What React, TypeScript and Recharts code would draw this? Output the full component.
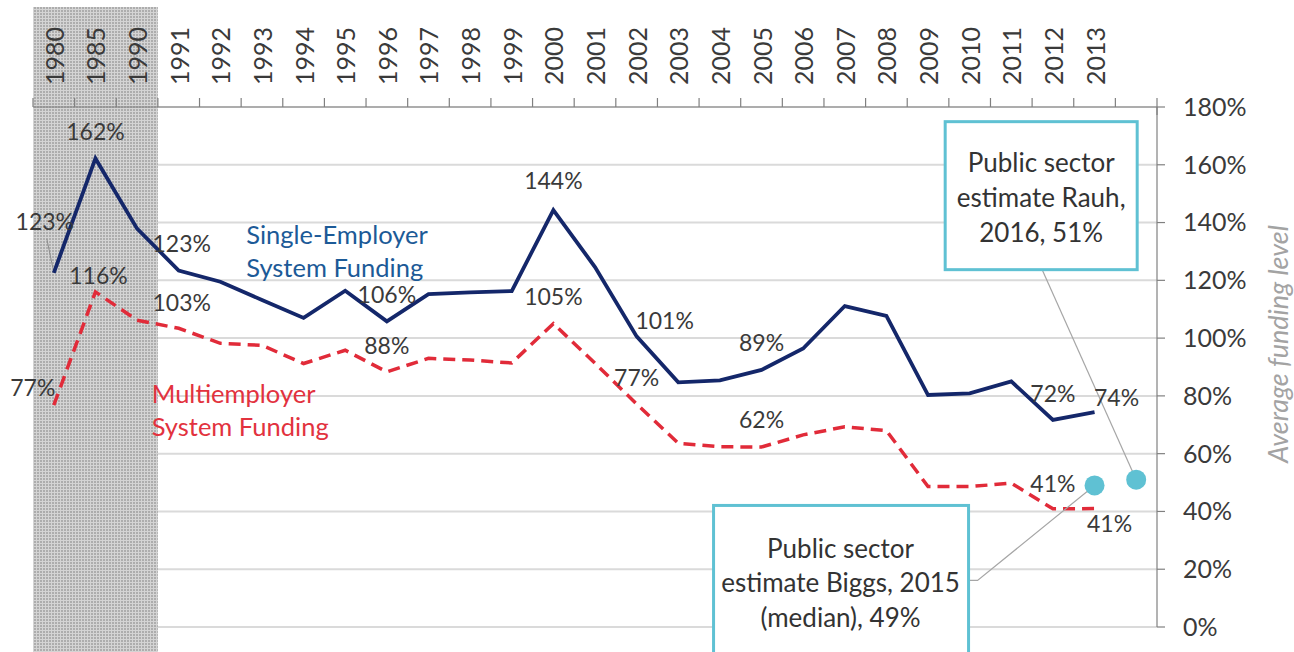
import React from 'react';
import {
  ComposedChart,
  Line,
  XAxis,
  YAxis,
  CartesianGrid,
  ReferenceArea,
  ReferenceDot,
  LabelList,
  Label,
} from 'recharts';

// ---------- data ----------
const categories = [
  '1980', '1985', '1990', '1991', '1992', '1993', '1994', '1995', '1996', '1997',
  '1998', '1999', '2000', '2001', '2002', '2003', '2004', '2005', '2006', '2007',
  '2008', '2009', '2010', '2011', '2012', '2013', 'est',
];
const tickLabels = [
  '1980', '1985', '1990', '1991', '1992', '1993', '1994', '1995', '1996', '1997',
  '1998', '1999', '2000', '2001', '2002', '2003', '2004', '2005', '2006', '2007',
  '2008', '2009', '2010', '2011', '2012', '2013', '',
];
const singleEmployer = [
  122.6, 162.2, 137.9, 123.4, 119.5, 113.2, 107.0, 116.4, 105.8, 115.2,
  115.8, 116.3, 144.3, 124.6, 100.6, 84.7, 85.4, 89.0, 96.4, 111.1,
  107.7, 80.3, 80.9, 85.0, 71.7, 74.4, null,
];
const multiEmployer = [
  76.8, 116.0, 106.2, 103.4, 98.2, 97.5, 91.2, 95.8, 88.3, 93.0,
  92.4, 91.4, 105.0, 91.3, 77.2, 63.6, 62.4, 62.3, 66.5, 69.3,
  68.0, 48.6, 48.6, 49.8, 40.9, 41.0, null,
];
const publicSector = [
  null, null, null, null, null, null, null, null, null, null,
  null, null, null, null, null, null, null, null, null, null,
  null, null, null, null, null, 49, 51,
];
const yTicks = [0, 20, 40, 60, 80, 100, 120, 140, 160, 180];
const publicNotes = [
  ['Public sector', 'estimate Biggs, 2015', '(median), 49%'],
  ['Public sector', 'estimate Rauh,', '2016, 51%'],
];
const seriesNames = {
  single: ['Single-Employer', 'System Funding'],
  multi: ['Multiemployer', 'System Funding'],
};

const data = categories.map((year, i) => ({
  year,
  single: singleEmployer[i],
  multi: multiEmployer[i],
  pub: publicSector[i],
}));

// ---------- styling ----------
const FONT = 'Lato, "Open Sans", sans-serif';
const NAVY = '#14276a';
const RED = '#e12b39';
const TEAL = '#5fc1d3';
const BAND = 1124 / 27;

// data label offsets (relative to point)
const singleLabelPos: Record<string, { dx: number; dy: number; leader?: boolean }> = {
  '1980': { dx: -9, dy: -52, leader: true },
  '1985': { dx: 0, dy: -27 },
  '1991': { dx: 3, dy: -28 },
  '1996': { dx: 0, dy: -27 },
  '2000': { dx: 0, dy: -30 },
  '2002': { dx: 28, dy: -16 },
  '2005': { dx: 0, dy: -28 },
  '2012': { dx: 0, dy: -27 },
  '2013': { dx: 22, dy: -15 },
};
const multiLabelPos: Record<string, { dx: number; dy: number; leader?: boolean }> = {
  '1980': { dx: -21, dy: -18 },
  '1985': { dx: 3, dy: -17 },
  '1991': { dx: 3, dy: -26 },
  '1996': { dx: 0, dy: -27 },
  '2000': { dx: 0, dy: -28 },
  '2002': { dx: 0, dy: -27 },
  '2005': { dx: 0, dy: -28 },
  '2012': { dx: 0, dy: -26 },
  '2013': { dx: 15, dy: 14 },
};

const makeLabel = (pos: Record<string, { dx: number; dy: number; leader?: boolean }>) =>
  (props: any) => {
    const { x, y, value, index } = props;
    const cfg = pos[categories[index]];
    if (!cfg || value == null || x == null || y == null) return <g />;
    const lx = x + cfg.dx;
    const ly = y + cfg.dy;
    return (
      <g>
        {cfg.leader && (
          <line x1={lx + 2} y1={ly + 18} x2={x - 1} y2={y - 5} stroke="#8c8c8c" strokeWidth={1} />
        )}
        <text
          x={lx}
          y={ly}
          textAnchor="middle"
          dominantBaseline="central"
          fontSize={23}
          fontFamily={FONT}
          fill="#3a3a3a"
        >
          {Math.round(value)}%
        </text>
      </g>
    );
  };

const YearTick = (props: any) => {
  const { x, y, index } = props;
  const label = tickLabels[index] ?? '';
  const left = x - BAND / 2;
  const right = x + BAND / 2;
  const isLast = index === categories.length - 1;
  return (
    <g>
      <line x1={left} y1={y - 9} x2={left} y2={y} stroke="#808080" strokeWidth={1.2} />
      {isLast && <line x1={right} y1={y - 9} x2={right} y2={y + 8} stroke="#808080" strokeWidth={1.2} />}
      <text
        x={x}
        y={y - 22}
        transform={`rotate(-90, ${x}, ${y - 22})`}
        textAnchor="start"
        dominantBaseline="central"
        fontSize={25}
        fontFamily={FONT}
        fill="#3a3a3a"
      >
        {label}
      </text>
    </g>
  );
};

// callout layout relative to each public-sector dot
const callouts = [
  {
    box: { dx: -381, dy: 20, w: 255, h: 170 },
    textX: -254,
    textY: [63, 97, 132],
    leader: [[-126, 95], [-117, 95], [0, 0]],
  },
  {
    box: { dx: -191, dy: -358, w: 192, h: 148 },
    textX: -95,
    textY: [-318, -283, -248],
    leader: [[-94, -210], [0, 0]],
  },
];

const PublicDot = (props: any) => {
  const { cx, cy, index } = props;
  if (cx == null || cy == null || publicSector[index] == null) return <g key={`pd-${index}`} />;
  const ci = index - (categories.length - 2);
  const c = callouts[ci];
  const lines = publicNotes[ci];
  return (
    <g key={`pd-${index}`}>
      {c && (
        <>
          <polyline
            points={c.leader.map(([dx, dy]) => `${cx + dx},${cy + dy}`).join(' ')}
            fill="none"
            stroke="#a6a6a6"
            strokeWidth={1.2}
          />
          <rect
            x={cx + c.box.dx}
            y={cy + c.box.dy}
            width={c.box.w}
            height={c.box.h}
            fill="#ffffff"
            stroke={TEAL}
            strokeWidth={3}
          />
          {lines.map((t, i) => (
            <text
              key={i}
              x={cx + c.textX}
              y={cy + c.textY[i]}
              textAnchor="middle"
              dominantBaseline="central"
              fontSize={26}
              fontFamily={FONT}
              fill="#333333"
            >
              {t}
            </text>
          ))}
        </>
      )}
      <circle cx={cx} cy={cy} r={10} fill={TEAL} />
    </g>
  );
};

const SeriesName = (lines: string[], color: string, dx: number, dy: number) => (props: any) => {
  const { cx, cy } = props;
  if (cx == null || cy == null) return <g />;
  return (
    <g>
      {lines.map((t, i) => (
        <text
          key={i}
          x={cx + dx}
          y={cy + dy + i * 33}
          textAnchor="start"
          dominantBaseline="central"
          fontSize={25.5}
          fontFamily={FONT}
          fill={color}
        >
          {t}
        </text>
      ))}
    </g>
  );
};

const YTitle = (props: any) => {
  const vb = props.viewBox || { x: 1157, y: 107, width: 137, height: 520 };
  const x = vb.x + vb.width - 17;
  const y = vb.y + vb.height / 2 - 23;
  return (
    <text
      x={x}
      y={y}
      transform={`rotate(-90, ${x}, ${y})`}
      textAnchor="middle"
      dominantBaseline="central"
      fontSize={27}
      fontStyle="italic"
      fontFamily={FONT}
      fill="#a3a3a3"
    >
      Average funding level
    </text>
  );
};

export default function App() {
  return (
    <div style={{ position: 'absolute', left: 0, top: 0, width: 1294, height: 652, overflow: 'hidden', background: '#fff' }}>
      <ComposedChart
        width={1294}
        height={652}
        data={data}
        margin={{ top: 0, right: 0, left: 33, bottom: 25 }}
      >
        <defs>
          <pattern id="hatch" width="3" height="3" patternUnits="userSpaceOnUse">
            <rect width="3" height="3" fill="#a9a9a9" />
            <rect width="3" height="1" fill="#d2d2d2" />
            <rect width="1" height="3" fill="#d2d2d2" />
          </pattern>
        </defs>
        <CartesianGrid horizontal vertical={false} stroke="#dadada" strokeWidth={2} />
        <XAxis
          dataKey="year"
          orientation="top"
          scale="band"
          height={107}
          interval={0}
          tickSize={0}
          tickMargin={0}
          tickLine={false}
          axisLine={{ stroke: '#808080', strokeWidth: 1.2 }}
          tick={<YearTick />}
        />
        <YAxis
          orientation="right"
          width={137}
          domain={[0, 180]}
          ticks={yTicks}
          interval={0}
          tickFormatter={(v: number) => `${v}%`}
          axisLine={{ stroke: '#808080', strokeWidth: 1.2 }}
          tickLine={{ stroke: '#808080', strokeWidth: 1.2 }}
          tickSize={8}
          tickMargin={18}
          tick={{ fontSize: 25, fill: '#3a3a3a', fontFamily: FONT }}
        >
          <Label content={<YTitle />} />
        </YAxis>
        <ReferenceArea
          x1="1980"
          x2="1990"
          y1={-9}
          y2={214.6}
          ifOverflow="visible"
          fill="url(#hatch)"
          fillOpacity={0.95}
          stroke="none"
        />
        <ReferenceDot
          x="1995"
          y={130}
          r={0}
          ifOverflow="visible"
          shape={SeriesName(seriesNames.single, '#1c5a97', -99, -17)}
        />
        <ReferenceDot
          x="1991"
          y={75}
          r={0}
          ifOverflow="visible"
          shape={SeriesName(seriesNames.multi, '#e2323e', -27, -17)}
        />
        <Line
          dataKey="multi"
          stroke={RED}
          strokeWidth={3.5}
          strokeDasharray="12 7"
          dot={false}
          activeDot={false}
          isAnimationActive={false}
        >
          <LabelList dataKey="multi" content={makeLabel(multiLabelPos)} />
        </Line>
        <Line
          dataKey="single"
          stroke={NAVY}
          strokeWidth={3.8}
          dot={false}
          activeDot={false}
          isAnimationActive={false}
        >
          <LabelList dataKey="single" content={makeLabel(singleLabelPos)} />
        </Line>
        <Line
          dataKey="pub"
          stroke="none"
          dot={<PublicDot />}
          activeDot={false}
          isAnimationActive={false}
        />
      </ComposedChart>
    </div>
  );
}
